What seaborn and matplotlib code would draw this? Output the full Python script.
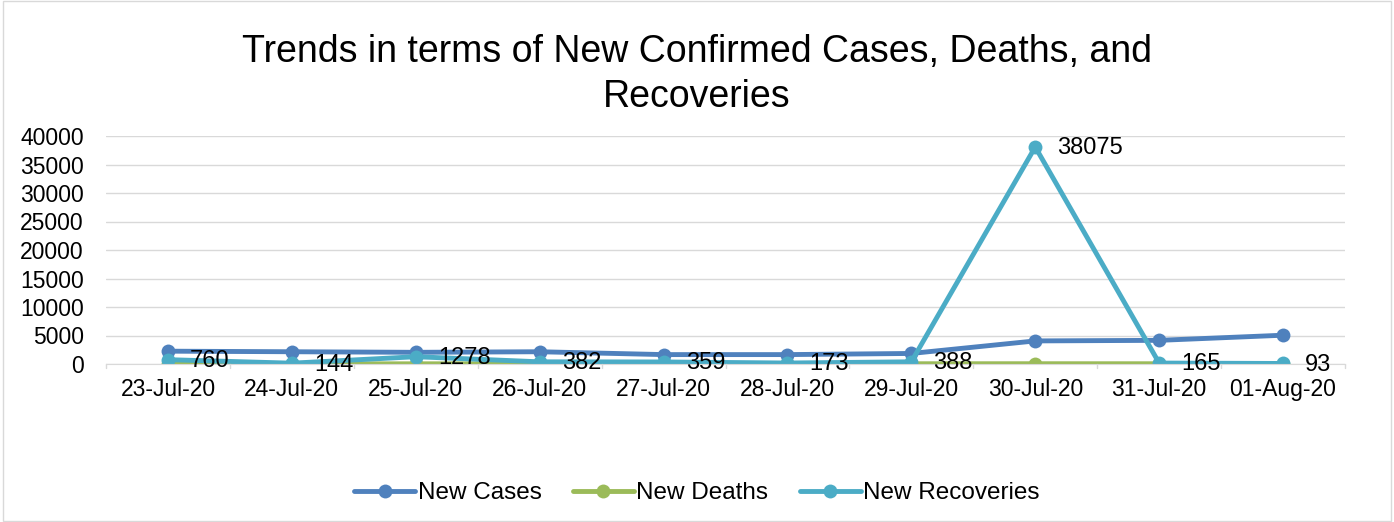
import numpy as np
import pandas as pd
import matplotlib
matplotlib.use("Agg")
import matplotlib.pyplot as plt
import seaborn as sns

dates = ["23-Jul-20", "24-Jul-20", "25-Jul-20", "26-Jul-20", "27-Jul-20",
         "28-Jul-20", "29-Jul-20", "30-Jul-20", "31-Jul-20", "01-Aug-20"]
new_cases = [2250, 2150, 2050, 2150, 1650, 1650, 1850, 4050, 4150, 5050]
new_deaths = [40, 30, 35, 40, 30, 35, 45, 50, 45, 40]
new_recoveries = [760, 144, 1278, 382, 359, 173, 388, 38075, 165, 93]

df = pd.DataFrame({"Date": dates, "New Cases": new_cases,
                   "New Deaths": new_deaths, "New Recoveries": new_recoveries})
long = df.melt(id_vars="Date", var_name="Series", value_name="Value")

sns.set_style("white")
plt.rcParams['font.family'] = ['Liberation Sans', 'DejaVu Sans']
plt.rcParams['text.color'] = 'black'

colors = {"New Cases": "#4F81BD", "New Deaths": "#9BBB59", "New Recoveries": "#4BACC6"}

fig = plt.figure(figsize=(13.94, 5.22), dpi=100)
ax = fig.add_axes([106 / 1394, 1 - 364 / 522, (1345 - 106) / 1394, (364 - 136) / 522])

x = np.arange(len(dates))
long["x"] = long["Date"].map({d: i for i, d in enumerate(dates)})
sns.lineplot(data=long, x="x", y="Value", hue="Series", palette=colors,
             marker="o", markersize=10, markeredgewidth=0, linewidth=3.5,
             ax=ax, legend=False, sort=False)

for xi, v in zip(x, new_recoveries):
    ax.annotate(str(v), (xi, v), xytext=(16, -1), textcoords="offset points",
                ha="left", va="center", fontsize=17, color="black")

ax.set_xlim(-0.5, len(dates) - 0.5)
ax.set_ylim(0, 40000)
ax.set_yticks(np.arange(0, 40001, 5000))
ax.set_xticks(x)
ax.set_xticklabels(dates)
ax.set_xlabel("")
ax.set_ylabel("")
ax.tick_params(axis="both", labelsize=16.5, colors="black", length=0)
ax.tick_params(axis="x", pad=10)
ax.tick_params(axis="y", pad=16)
ax.grid(axis="y", color="#D9D9D9", linewidth=1)
for s in ["top", "right", "left"]:
    ax.spines[s].set_visible(False)
ax.spines["bottom"].set_color("#D9D9D9")
for xb in np.arange(-0.5, len(dates), 1):
    ax.plot([xb, xb], [0, -700], color="#D9D9D9", linewidth=1, clip_on=False)

fig.text(0.5, 1 - 52 / 522, "Trends in terms of New Confirmed Cases, Deaths, and",
         ha="center", va="center", fontsize=27, color="black")
fig.text(0.5, 1 - 97 / 522, "Recoveries", ha="center", va="center",
         fontsize=27, color="black")

handles = [plt.Line2D([], [], color=colors[k], marker="o", markersize=10,
                      markeredgewidth=0, linewidth=3.5) for k in colors]
fig.legend(handles, list(colors), loc="center", bbox_to_anchor=(0.5, 1 - 493 / 522),
           ncol=3, frameon=False, fontsize=17.5, handlelength=2.5, handletextpad=0.1,
           columnspacing=1.3)

border = plt.Rectangle((0.002, 0.002), 0.996, 0.996, transform=fig.transFigure,
                       fill=False, edgecolor="#D9D9D9", linewidth=1)
fig.patches.append(border)

fig.savefig("out.png", dpi=100)
